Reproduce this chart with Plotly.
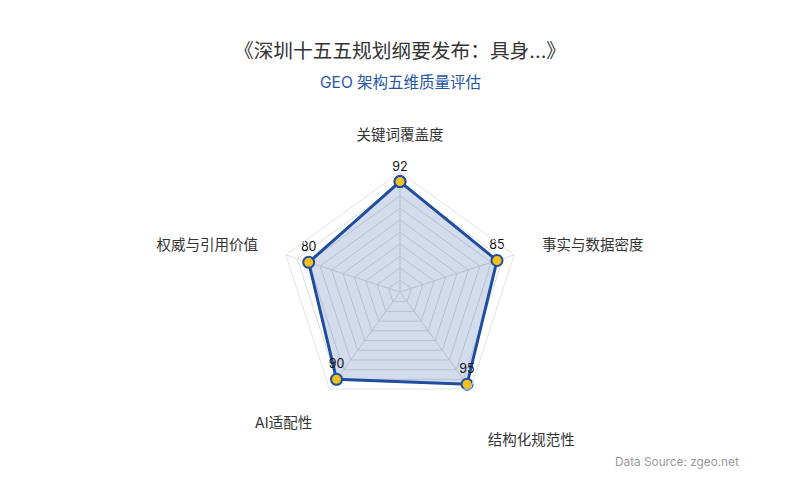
import plotly.graph_objects as go

categories = ["关键词覆盖度", "事实与数据密度", "结构化规范性", "AI适配性", "权威与引用价值"]
category_ticktext = ["关键词覆盖度", "事实与数据密度", "<br>结构化规范性", "AI适配性", "权威与引用价值"]
values = [92, 85, 95, 90, 80]
value_labels = [str(v) for v in values]

title_text = "《深圳十五五规划纲要发布：具身...》"
subtitle_text = "GEO 架构五维质量评估"
source_text = "Data Source: zgeo.net"

FONT = "Inter, Noto Sans CJK SC, Noto Sans, sans-serif"
W, H = 800, 500

fig = go.Figure()
fig.add_trace(go.Scatterpolar(
    r=values + values[:1],
    theta=categories + categories[:1],
    text=value_labels + [""],
    mode="lines+markers+text",
    textposition="top center",
    textfont=dict(size=12.5, color="#111111", family=FONT),
    fill="toself",
    fillcolor="rgba(35,80,165,0.2)",
    line=dict(color="#1f4e9f", width=3),
    marker=dict(size=11, color="#f2c21b", line=dict(color="#1f4e9f", width=2)),
    hoverinfo="skip",
    showlegend=False,
    cliponaxis=False,
))

cx, cy, rad = 400, 292, 120
fig.update_layout(
    width=W, height=H,
    margin=dict(l=0, r=0, t=0, b=0),
    paper_bgcolor="white",
    plot_bgcolor="white",
    font=dict(family=FONT, color="#333333"),
    polar=dict(
        domain=dict(x=[(cx - rad) / W, (cx + rad) / W],
                    y=[(H - cy - rad) / H, (H - cy + rad) / H]),
        bgcolor="white",
        gridshape="linear",
        radialaxis=dict(
            range=[0, 100], dtick=10, showticklabels=False, ticks="",
            showline=False, gridcolor="#dcdcdc", gridwidth=1,
        ),
        angularaxis=dict(
            rotation=90, direction="clockwise",
            tickmode="array", tickvals=categories, ticktext=category_ticktext,
            showline=True, linecolor="#e3e3e3", linewidth=1,
            gridcolor="#dcdcdc",
            ticks="outside", ticklen=26, tickcolor="rgba(0,0,0,0)",
            tickfont=dict(size=14.5, color="#333333", family=FONT),
        ),
    ),
    annotations=[
        dict(text=title_text, x=0.5, y=1 - 51 / H, xref="paper", yref="paper",
             showarrow=False, xanchor="center", yanchor="middle",
             font=dict(size=19.7, color="#333333", family=FONT)),
        dict(text=subtitle_text, x=0.5, y=1 - 82 / H, xref="paper", yref="paper",
             showarrow=False, xanchor="center", yanchor="middle",
             font=dict(size=15.5, color="#2456a4", family=FONT)),
        dict(text=source_text, x=741 / W, y=1 - 462 / H, xref="paper", yref="paper",
             showarrow=False, xanchor="right", yanchor="middle",
             font=dict(size=11.8, color="#999999", family=FONT)),
    ],
)

fig.write_html("out.html", config={"displayModeBar": False},
               post_script="document.body.style.margin='0';")
